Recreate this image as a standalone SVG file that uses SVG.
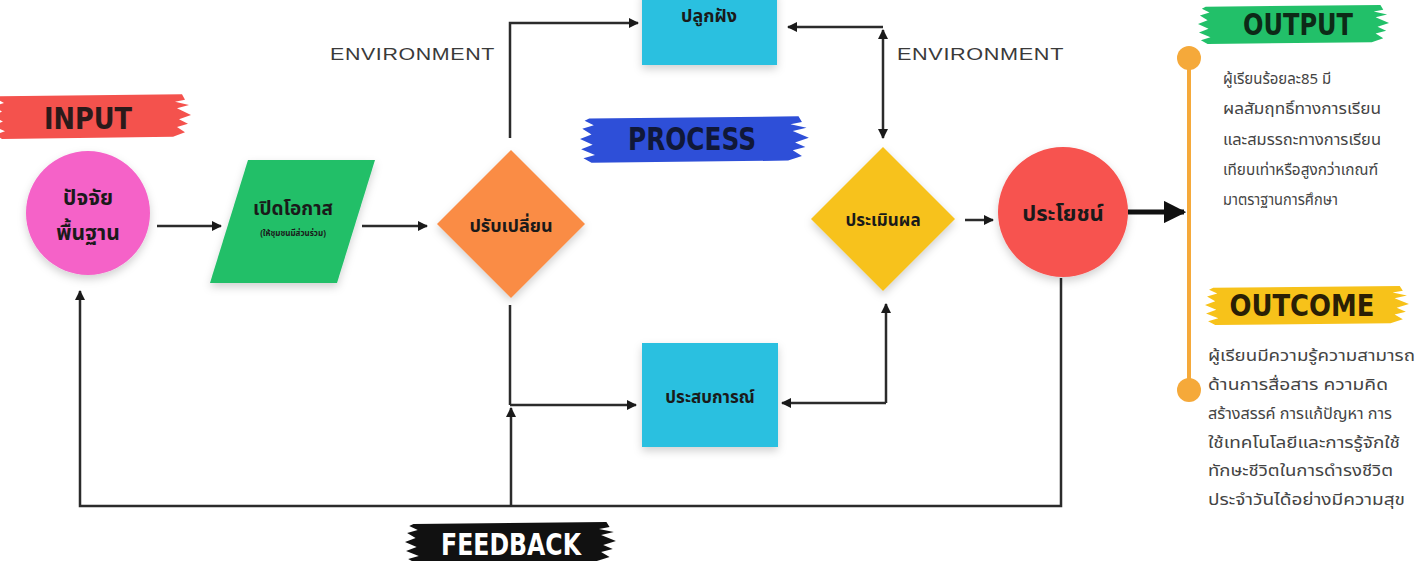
<svg xmlns="http://www.w3.org/2000/svg" width="1415" height="561" viewBox="0 0 1415 561">
<style>
.th{font-family:"Noto Sans Thai","Noto Sans","DejaVu Sans",sans-serif;font-weight:bold;fill:#1a1a1a;text-anchor:middle}
.body{font-family:"Noto Sans Thai","Noto Sans","DejaVu Sans",sans-serif;fill:#444;font-size:15px}
.env{font-family:"Liberation Sans",sans-serif;fill:#3a3a3a;font-size:17px;letter-spacing:0.5px}
.tag{font-family:"DejaVu Sans Condensed","Liberation Sans",sans-serif;font-weight:bold;text-anchor:middle}
.ln{fill:none;stroke:#2b2b2b;stroke-width:2.5}
</style>
<defs>
<marker id="ah" viewBox="0 0 10 10" refX="9" refY="5" markerWidth="4" markerHeight="4" orient="auto-start-reverse"><path d="M0,0 L10,5 L0,10 Z" fill="#1a1a1a"/></marker>
<marker id="ahb" viewBox="0 0 10 10" refX="9" refY="5" markerWidth="4.5" markerHeight="4.5" orient="auto"><path d="M0,0 L10,5 L0,10 Z" fill="#111"/></marker>
<filter id="sh" x="-20%" y="-20%" width="140%" height="150%"><feDropShadow dx="0" dy="4" stdDeviation="4" flood-color="#000" flood-opacity="0.18"/></filter>
<symbol id="brush" viewBox="0 0 200 44" preserveAspectRatio="none"><path fill="currentColor" d="M8,4 L190,2 L193,7 L183,9 L197,12 L185,15 L199,21 L187,25 L196,29 L185,32 L193,37 L181,41 L10,43 L3,39 L13,36 L1,31 L11,27 L0,22 L10,18 L2,13 L12,10 L4,6 Z"/></symbol>
</defs>
<rect width="1415" height="561" fill="#fff"/>

<g id="labels">
<use href="#brush" x="-8" y="92" width="200" height="48" style="color:#F4524D"/>
<text class="tag" x="88" y="129" font-size="30" fill="#2a1a1a" textLength="88" lengthAdjust="spacingAndGlyphs">INPUT</text>
<use href="#brush" x="580" y="114" width="230" height="50" style="color:#2E4FD8"/>
<text class="tag" x="692" y="150" font-size="32" fill="#101838" textLength="128" lengthAdjust="spacingAndGlyphs">PROCESS</text>
<use href="#brush" x="1198" y="3" width="192" height="42" style="color:#22C069"/>
<text class="tag" x="1298" y="35" font-size="30" fill="#0d2a17" textLength="110" lengthAdjust="spacingAndGlyphs">OUTPUT</text>
<use href="#brush" x="1205" y="284" width="205" height="42" style="color:#F7C21A"/>
<text class="tag" x="1302" y="316" font-size="30" fill="#2a1f05" textLength="145" lengthAdjust="spacingAndGlyphs">OUTCOME</text>
<use href="#brush" x="405" y="520" width="212" height="44" style="color:#111"/>
<text class="tag" x="511" y="555" font-size="30" fill="#fff" textLength="140" lengthAdjust="spacingAndGlyphs">FEEDBACK</text>
<text class="env" x="330" y="60" textLength="165" lengthAdjust="spacingAndGlyphs">ENVIRONMENT</text>
<text class="env" x="897" y="60" textLength="167" lengthAdjust="spacingAndGlyphs">ENVIRONMENT</text>
</g>

<g id="connectors">
<path class="ln" d="M157,226 L221,226" marker-end="url(#ah)"/>
<path class="ln" d="M362,226 L427,226" marker-end="url(#ah)"/>
<path class="ln" d="M510,138 L510,23 L638,23" marker-end="url(#ah)"/>
<path class="ln" d="M883,27 L788,27" marker-end="url(#ah)"/>
<path class="ln" d="M883,30 L883,138" marker-start="url(#ah)" marker-end="url(#ah)"/>
<path class="ln" d="M510,305 L510,405"/>
<path class="ln" d="M510,405 L636,405" marker-end="url(#ah)"/>
<path class="ln" d="M886,403 L782,403" marker-end="url(#ah)"/>
<path class="ln" d="M886,403 L886,304" marker-end="url(#ah)"/>
<path class="ln" d="M965,220 L993,220" marker-end="url(#ah)"/>
<path d="M1128,212 L1184,212" fill="none" stroke="#111" stroke-width="5" marker-end="url(#ahb)"/>
<path class="ln" d="M1061,278 L1061,506 L80,506 L80,291" marker-end="url(#ah)"/>
<path class="ln" d="M511,506 L511,408" marker-end="url(#ah)"/>
</g>

<g id="n-base">
<circle cx="88" cy="213" r="62" fill="#F562C8" filter="url(#sh)"/>
<text class="th" x="88" y="205" font-size="21">ปัจจัย</text>
<text class="th" x="88" y="240" font-size="21">พื้นฐาน</text>
</g>
<g id="n-open">
<polygon points="248,160 375,160 337,283 210,283" fill="#20BF68" filter="url(#sh)"/>
<text class="th" x="293" y="215" font-size="19">เปิดโอกาส</text>
<text class="th" x="293" y="236" font-size="8">(ให้ชุมชนมีส่วนร่วม)</text>
</g>
<g id="n-adapt">
<polygon points="511,150 585,224 511,298 437,224" fill="#FA8C45" filter="url(#sh)"/>
<text class="th" x="511" y="232" font-size="18">ปรับเปลี่ยน</text>
</g>
<g id="n-instill">
<rect x="642" y="-10" width="135" height="75" fill="#29C0E0" filter="url(#sh)"/>
<text class="th" x="709" y="22" font-size="18">ปลูกฝัง</text>
</g>
<g id="n-exp">
<rect x="642" y="343" width="136" height="104" fill="#29C0E0" filter="url(#sh)"/>
<text class="th" x="710" y="403" font-size="17">ประสบการณ์</text>
</g>
<g id="n-eval">
<polygon points="883,147 955,219 883,291 811,219" fill="#F7C21A" filter="url(#sh)"/>
<text class="th" x="883" y="226" font-size="17">ประเมินผล</text>
</g>
<g id="n-benefit">
<circle cx="1063" cy="212" r="65" fill="#F7524F" filter="url(#sh)"/>
<text class="th" x="1063" y="221" font-size="22">ประโยชน์</text>
</g>

<g id="timeline">
<line x1="1189" y1="58" x2="1189" y2="390" stroke="#F5A93A" stroke-width="4"/>
<circle cx="1189" cy="58" r="12" fill="#F5A93A"/>
<circle cx="1189" cy="390" r="12" fill="#F5A93A"/>
</g>

<g id="output-text">
<text class="body" x="1223" y="84">ผู้เรียนร้อยละ85 มี</text>
<text class="body" x="1223" y="114" textLength="158" lengthAdjust="spacingAndGlyphs">ผลสัมฤทธิ์ทางการเรียน</text>
<text class="body" x="1223" y="145" textLength="158" lengthAdjust="spacingAndGlyphs">และสมรรถะทางการเรียน</text>
<text class="body" x="1223" y="175" textLength="155" lengthAdjust="spacingAndGlyphs">เทียบเท่าหรือสูงกว่าเกณฑ์</text>
<text class="body" x="1223" y="205" textLength="115" lengthAdjust="spacingAndGlyphs">มาตราฐานการศึกษา</text>
</g>
<g id="outcome-text">
<text class="body" x="1208" y="361" textLength="207" lengthAdjust="spacingAndGlyphs">ผู้เรียนมีความรู้ความสามารถ</text>
<text class="body" x="1208" y="390" textLength="180" lengthAdjust="spacingAndGlyphs">ด้านการสื่อสาร ความคิด</text>
<text class="body" x="1208" y="419" textLength="184" lengthAdjust="spacingAndGlyphs">สร้างสรรค์ การแก้ปัญหา การ</text>
<text class="body" x="1208" y="448" textLength="192" lengthAdjust="spacingAndGlyphs">ใช้เทคโนโลยีและการรู้จักใช้</text>
<text class="body" x="1208" y="476" textLength="185" lengthAdjust="spacingAndGlyphs">ทักษะชีวิตในการดำรงชีวิต</text>
<text class="body" x="1208" y="505" textLength="197" lengthAdjust="spacingAndGlyphs">ประจำวันได้อย่างมีความสุข</text>
</g>
</svg>
